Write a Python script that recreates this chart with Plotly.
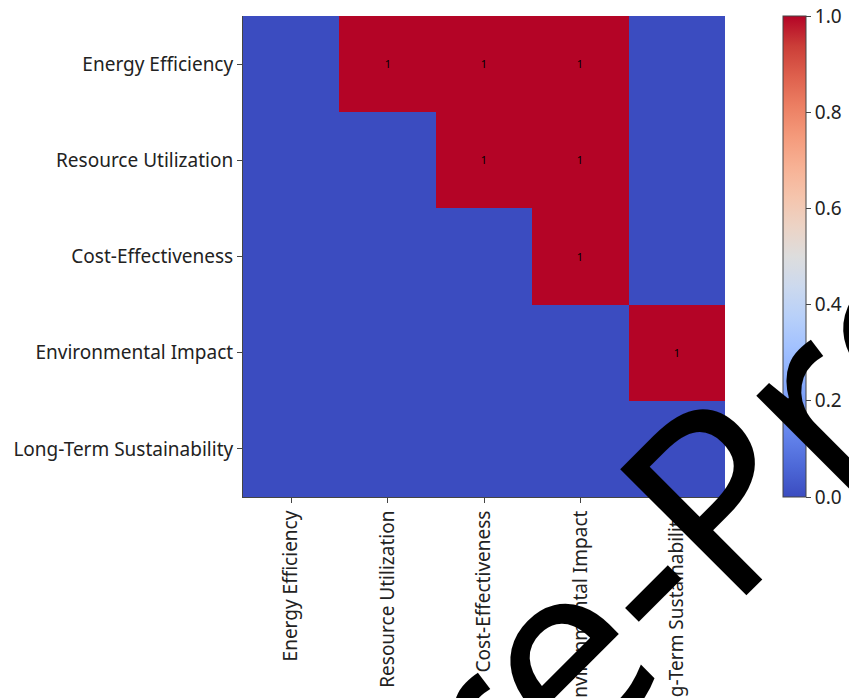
import plotly.graph_objects as go

# Criteria compared pairwise
criteria = [
    "Energy Efficiency",
    "Resource Utilization",
    "Cost-Effectiveness",
    "Environmental Impact",
    "Long-Term Sustainability",
]

# Dependency matrix (row criterion -> column criterion)
row_energy = [0, 1, 1, 1, 0]
row_resource = [0, 0, 1, 1, 0]
row_cost = [0, 0, 0, 1, 0]
row_environment = [0, 0, 0, 0, 1]
row_longterm = [0, 0, 0, 0, 0]
matrix = [row_energy, row_resource, row_cost, row_environment, row_longterm]

colorbar_ticks = [0.0, 0.2, 0.4, 0.6, 0.8, 1.0]
overlay_text = "Pre-Processing"

# coolwarm diverging palette
coolwarm_rgb = [
    (59, 76, 192), (77, 104, 215), (98, 130, 234), (119, 154, 247),
    (141, 176, 254), (163, 194, 255), (184, 208, 249), (204, 217, 238),
    (221, 221, 221), (236, 211, 197), (245, 196, 172), (247, 177, 148),
    (244, 154, 123), (236, 127, 99), (222, 96, 77), (203, 62, 56),
    (180, 4, 38),
]
n = len(coolwarm_rgb) - 1
colorscale = [[i / n, "rgb(%d,%d,%d)" % c] for i, c in enumerate(coolwarm_rgb)]

# only non-zero cells carry a label
cell_text = [[str(v) if v else "" for v in row] for row in matrix]

FONT = "Noto Sans"
AXIS_COLOR = "#444444"
LABEL_SIZE = 19

fig = go.Figure(
    go.Heatmap(
        z=matrix,
        x=criteria,
        y=criteria,
        zmin=0,
        zmax=1,
        colorscale=colorscale,
        text=cell_text,
        texttemplate="%{text}",
        textfont=dict(family=FONT, size=11, color="black"),
        xgap=0,
        ygap=0,
        colorbar=dict(
            x=1.1203,
            xanchor="left",
            xpad=0,
            y=0.5,
            yanchor="middle",
            ypad=0,
            len=1,
            lenmode="fraction",
            thickness=23,
            outlinewidth=1,
            outlinecolor=AXIS_COLOR,
            ticks="outside",
            ticklen=5,
            tickcolor=AXIS_COLOR,
            tickvals=colorbar_ticks,
            tickformat=".1f",
            tickfont=dict(family=FONT, size=LABEL_SIZE, color="#222222"),
        ),
    )
)

fig.update_xaxes(
    automargin=False,
    tickangle=-90,
    ticks="outside",
    ticklen=5,
    tickcolor=AXIS_COLOR,
    showline=True,
    linecolor=AXIS_COLOR,
    linewidth=1,
    showgrid=False,
    zeroline=False,
    tickfont=dict(family=FONT, size=LABEL_SIZE, color="#222222"),
)
fig.update_yaxes(
    automargin=False,
    autorange="reversed",
    ticks="outside",
    ticklen=5,
    tickcolor=AXIS_COLOR,
    showline=True,
    linecolor=AXIS_COLOR,
    linewidth=1,
    showgrid=False,
    zeroline=False,
    tickfont=dict(family=FONT, size=LABEL_SIZE, color="#222222"),
)

# large diagonal overlay caption
fig.add_annotation(
    text=overlay_text,
    xref="paper",
    yref="paper",
    x=1.4552,
    y=0.4927,
    xanchor="center",
    yanchor="middle",
    textangle=-45,
    showarrow=False,
    font=dict(family=FONT, size=250, color="black"),
)

fig.update_layout(
    width=849,
    height=698,
    margin=dict(l=243, r=124, t=16, b=201, autoexpand=False),
    paper_bgcolor="white",
    plot_bgcolor="white",
    font=dict(family=FONT),
)

fig.write_html("out.html")
